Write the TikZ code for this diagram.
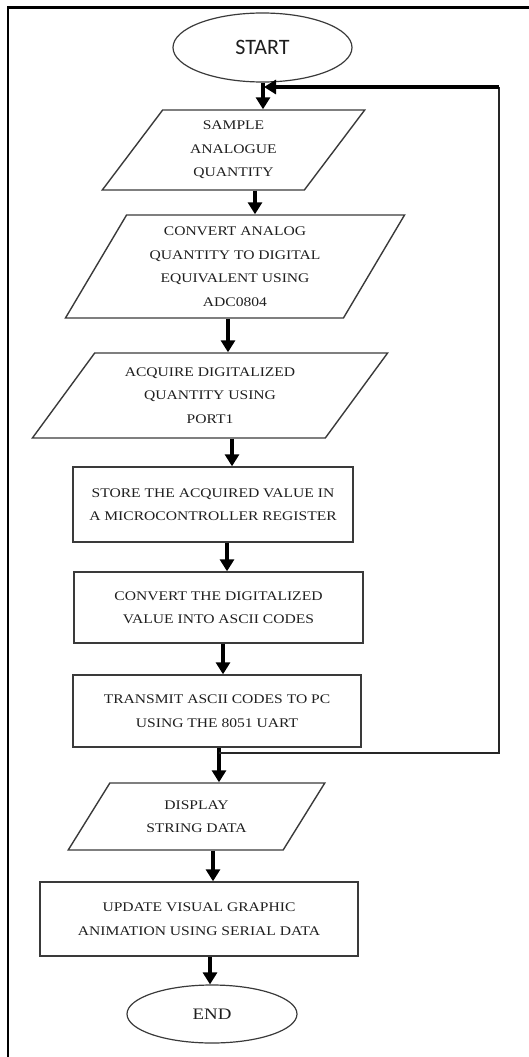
\documentclass[tikz,border=0pt]{standalone}
\usepackage{fontspec}
\setmainfont{Liberation Serif}[FakeStretch=1.18]
\newfontfamily\startfont{Carlito}
\usetikzlibrary{shapes.geometric,arrows.meta}
\definecolor{edge}{HTML}{3A3A3A}
\definecolor{ink}{HTML}{1E1E1E}
\tikzset{
  box/.style={draw=edge, line width=1.4pt, rectangle, inner sep=0pt, align=center,
    text=ink, font=\fontsize{13.2}{23.5}\selectfont},
  para/.style={draw=edge, line width=1.4pt, trapezium, trapezium stretches=true,
    inner sep=0pt, align=center, text=ink, font=\fontsize{13.2}{23.5}\selectfont},
  term/.style={draw=edge, line width=1.2pt, ellipse, inner sep=0pt, text=ink},
  arr/.style={line width=3.6pt, -{Triangle[length=12pt,width=14pt]}},
  fbthin/.style={line width=1.8pt, draw=black!85},
  fbthick/.style={line width=3.6pt, -{Triangle[length=12pt,width=14pt]}},
  frame/.style={line width=2.2pt}
}
\begin{document}
\begin{tikzpicture}[x=1pt,y=1pt]
\useasboundingbox (0,0) rectangle (529,-1057);
\draw[frame] (8,-1057) -- (8,-7.5) -- (529,-7.5);

\node[term, minimum width=179pt, minimum height=69pt, font=\startfont\fontsize{22}{22}\selectfont] (start) at (262.5,-47.5) {START};

\node[para, trapezium left angle=57.5, trapezium right angle=122.5, minimum width=263pt, minimum height=80pt] (sample) at (233.5,-150) {SAMPLE\\ANALOGUE\\QUANTITY};

\node[para, trapezium left angle=58.8, trapezium right angle=121.2, minimum width=340pt, minimum height=103pt] (conv) at (235,-266.5) {CONVERT ANALOG\\QUANTITY TO DIGITAL\\EQUIVALENT USING\\ADC0804};

\node[para, trapezium left angle=50.5, trapezium right angle=129.5, minimum width=356pt, minimum height=85pt] (acq) at (210,-395.5) {ACQUIRE DIGITALIZED\\QUANTITY USING\\PORT1};

\node[box, minimum width=280pt, minimum height=75pt] (store) at (213,-504.5) {STORE THE ACQUIRED VALUE IN\\A MICROCONTROLLER REGISTER};

\node[box, minimum width=289pt, minimum height=71pt] (ascii) at (218.5,-607.5) {CONVERT THE DIGITALIZED\\VALUE INTO ASCII CODES};

\node[box, minimum width=288pt, minimum height=72pt] (trans) at (217,-711) {TRANSMIT ASCII CODES TO PC\\USING THE 8051 UART};

\node[para, trapezium left angle=53.3, trapezium right angle=126.7, minimum width=257pt, minimum height=67pt] (disp) at (196.5,-816.5) {DISPLAY\\STRING DATA};

\node[box, minimum width=318pt, minimum height=74pt] (upd) at (199,-919) {UPDATE VISUAL GRAPHIC\\ANIMATION USING SERIAL DATA};

\node[term, minimum width=170pt, minimum height=58pt, font=\fontsize{16}{16}\selectfont] (end) at (212,-1014) {END};

% arrow x positions
\coordinate (x1) at (263,0);
\coordinate (x2) at (255,0);
\coordinate (x3) at (228,0);
\coordinate (x4) at (232,0);
\coordinate (x5) at (227,0);
\coordinate (x6) at (223,0);
\coordinate (x7) at (219,0);
\coordinate (x8) at (213,0);
\coordinate (x9) at (210,0);

\draw[arr] (start.south -| x1) -- (sample.north -| x1);
\draw[arr] (sample.south -| x2) -- (conv.north -| x2);
\draw[arr] (conv.south -| x3) -- (acq.north -| x3);
\draw[arr] (acq.south -| x4) -- (store.north -| x4);
\draw[arr] (store.south -| x5) -- (ascii.north -| x5);
\draw[arr] (ascii.south -| x6) -- (trans.north -| x6);
\draw[arr] (trans.south -| x7) -- (disp.north -| x7);
\draw[arr] (disp.south -| x8) -- (upd.north -| x8);
\draw[arr] (upd.south -| x9) -- (end.north -| x9);

% feedback loop
\coordinate (j) at (219,-753);
\coordinate (r1) at (499,-753);
\coordinate (r2) at (499,-87);
\coordinate (k) at (264,-87);
\draw[fbthin] (j) -- (r1) -- (r2);
\draw[fbthick] (r2) -- (k);
\end{tikzpicture}
\end{document}
